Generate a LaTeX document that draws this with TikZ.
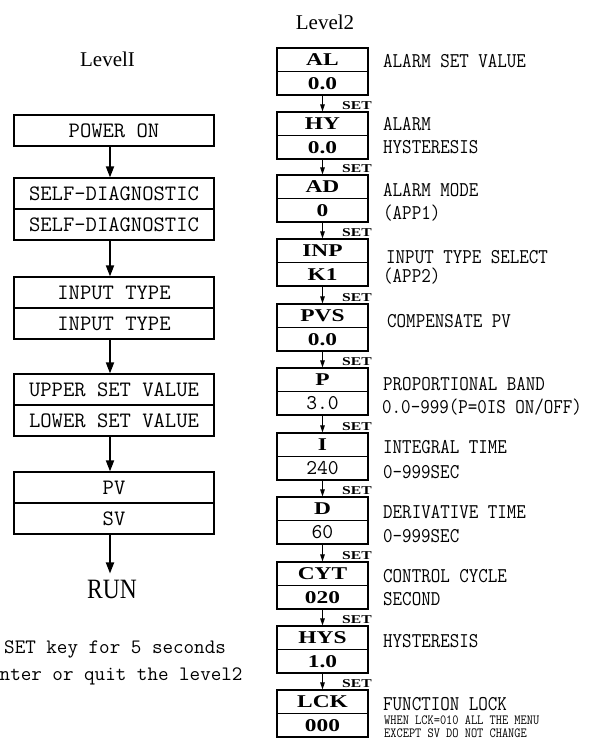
\documentclass[tikz,border=0pt]{standalone}
\usepackage{fontspec}
\usepackage{graphicx}
\newfontfamily\tms{Liberation Serif}
\usetikzlibrary{arrows.meta}
\newcommand\RC[1]{\scalebox{0.88}[1]{#1}}
\newcommand\SC[1]{\scalebox{0.86}[1]{#1}}
\newcommand\WS[1]{\scalebox{1.3}[1]{#1}}
\tikzset{
  lbox/.style={draw, line width=1.2pt, minimum width=200pt, minimum height=31pt, inner sep=0pt,
    font=\fontsize{22}{22}\selectfont\ttfamily},
  rbox/.style={draw, line width=1.1pt, minimum width=91pt, minimum height=23.5pt, inner sep=0pt,
    font=\tms\bfseries\fontsize{18}{18}\selectfont},
  rboxm/.style={rbox, font=\fontsize{21}{21}\selectfont\ttfamily},
  lab/.style={anchor=base west, inner sep=0pt, font=\fontsize{21}{21}\selectfont\ttfamily},
  smalllab/.style={anchor=base west, inner sep=0pt, font=\fontsize{14}{14}\selectfont\ttfamily},
  setlab/.style={anchor=base west, inner sep=0pt, font=\tms\bfseries\fontsize{12}{12}\selectfont},
  larrow/.style={-{Triangle[width=8pt,length=11pt]}, line width=1.8pt},
  rarrow/.style={-{Triangle[width=4.5pt,length=7pt]}, line width=0.9pt},
  titlef/.style={anchor=base, inner sep=0pt, font=\tms\fontsize{21}{21}\selectfont},
  note/.style={anchor=base west, inner sep=0pt, font=\fontsize{20.5}{20.5}\selectfont\ttfamily},
}
\begin{document}
\begin{tikzpicture}[x=1pt,y=-1pt]
\useasboundingbox (0,0) rectangle (606,740);
% ---------- Level I ----------
\node[titlef] (t1) at (107.5,66) {LevelI};
\node[lbox] (pon) at (114,130.5) {POWER ON};
\node[lbox] (sd1) at (114,193.5) {SELF-DIAGNOSTIC};
\node[lbox] (sd2) at (114,224.5) {SELF-DIAGNOSTIC};
\node[lbox] (it1) at (114,292.5) {INPUT TYPE};
\node[lbox] (it2) at (114,323.5) {INPUT TYPE};
\node[lbox] (up) at (114,389.5) {UPPER SET VALUE};
\node[lbox] (lo) at (114,420.5) {LOWER SET VALUE};
\node[lbox] (pv) at (114,487.5) {PV};
\node[lbox] (sv) at (114,518.5) {SV};
\node[anchor=base, inner sep=0pt, font=\tms\fontsize{28}{28}\selectfont] (run) at (112,598) {\scalebox{0.84}[1]{RUN}};
\draw[larrow] (pon.south -| 110,0) -- (sd1.north -| 110,0);
\draw[larrow] (sd2.south -| 110,0) -- (it1.north -| 110,0);
\draw[larrow] (it2.south -| 110,0) -- (up.north -| 110,0);
\draw[larrow] (lo.south -| 110,0) -- (pv.north -| 110,0);
\draw[larrow, shorten >=6pt] (sv.south -| 110,0) -- (run.north -| 110,0);
\node[note] (n1) at (4,653.5) {SET key for 5 seconds};
\node[note] (n2) at (-0.5,680) {nter or quit the level2};
% ---------- Level 2 ----------
\node[titlef] (t2) at (325,29) {Level2};
\foreach \nm/\ty/\ta/\tb/\st in {
  al/48/AL/\WS{0.0}/rbox, hy/112/HY/\WS{0.0}/rbox, ad/175/AD/\WS{0}/rbox, inp/239/INP/\WS{K1}/rbox,
  pvs/304/PVS/\WS{0.0}/rbox, p/368/P/3.0/rboxm, i/433/I/240/rboxm, d/497/D/60/rboxm,
  cyt/562/CYT/\WS{020}/rbox, hys/626/HYS/\WS{1.0}/rbox, lck/690/LCK/\WS{000}/rbox}{
  \node[rbox] (\nm t) at (322.5,{\ty+11.75}) {\WS{\ta}};
  \node[\st] (\nm b) at (322.5,{\ty+35.25}) {\tb};
}
\foreach \a/\b in {al/hy, hy/ad, ad/inp, inp/pvs, pvs/p, p/i, i/d, d/cyt, cyt/hys, hys/lck}{
  \draw[rarrow] (\a b.south) -- (\b t.north);
  \node[setlab] (set\b) at ([yshift=1.5pt]\b t.north -| 342,0) {\WS{SET}};
}
% labels
\node[lab] (l1) at (383,67) {\RC{ALARM SET VALUE}};
\node[lab] (l2) at (383,130) {\RC{ALARM}};
\node[lab] (l3) at (383,153) {\RC{HYSTERESIS}};
\node[lab] (l4) at (383,196) {\RC{ALARM MODE}};
\node[lab] (l5) at (383,219) {\RC{(APP1)}};
\node[lab] (l6) at (386,263) {\RC{INPUT TYPE SELECT}};
\node[lab] (l7) at (383,282) {\RC{(APP2)}};
\node[lab] (l8) at (387,327) {\RC{COMPENSATE PV}};
\node[lab] (l9) at (383,390) {\RC{PROPORTIONAL BAND}};
\node[lab] (l10) at (382,413) {\RC{0.0-999(P=0IS ON/OFF)}};
\node[lab] (l11) at (383,453) {\RC{INTEGRAL TIME}};
\node[lab] (l12) at (383,478) {\RC{0-999SEC}};
\node[lab] (l13) at (383,518) {\RC{DERIVATIVE TIME}};
\node[lab] (l14) at (383,542) {\RC{0-999SEC}};
\node[lab] (l15) at (383,582) {\RC{CONTROL CYCLE}};
\node[lab] (l16) at (383,605) {\RC{SECOND}};
\node[lab] (l17) at (383,647) {\RC{HYSTERESIS}};
\node[lab] (l18) at (383,710.5) {\RC{FUNCTION LOCK}};
\node[smalllab] (l19) at (384,724.5) {\SC{WHEN LCK=010 ALL THE MENU}};
\node[smalllab] (l20) at (384,737.5) {\SC{EXCEPT SV DO NOT CHANGE}};
\end{tikzpicture}
\end{document}
